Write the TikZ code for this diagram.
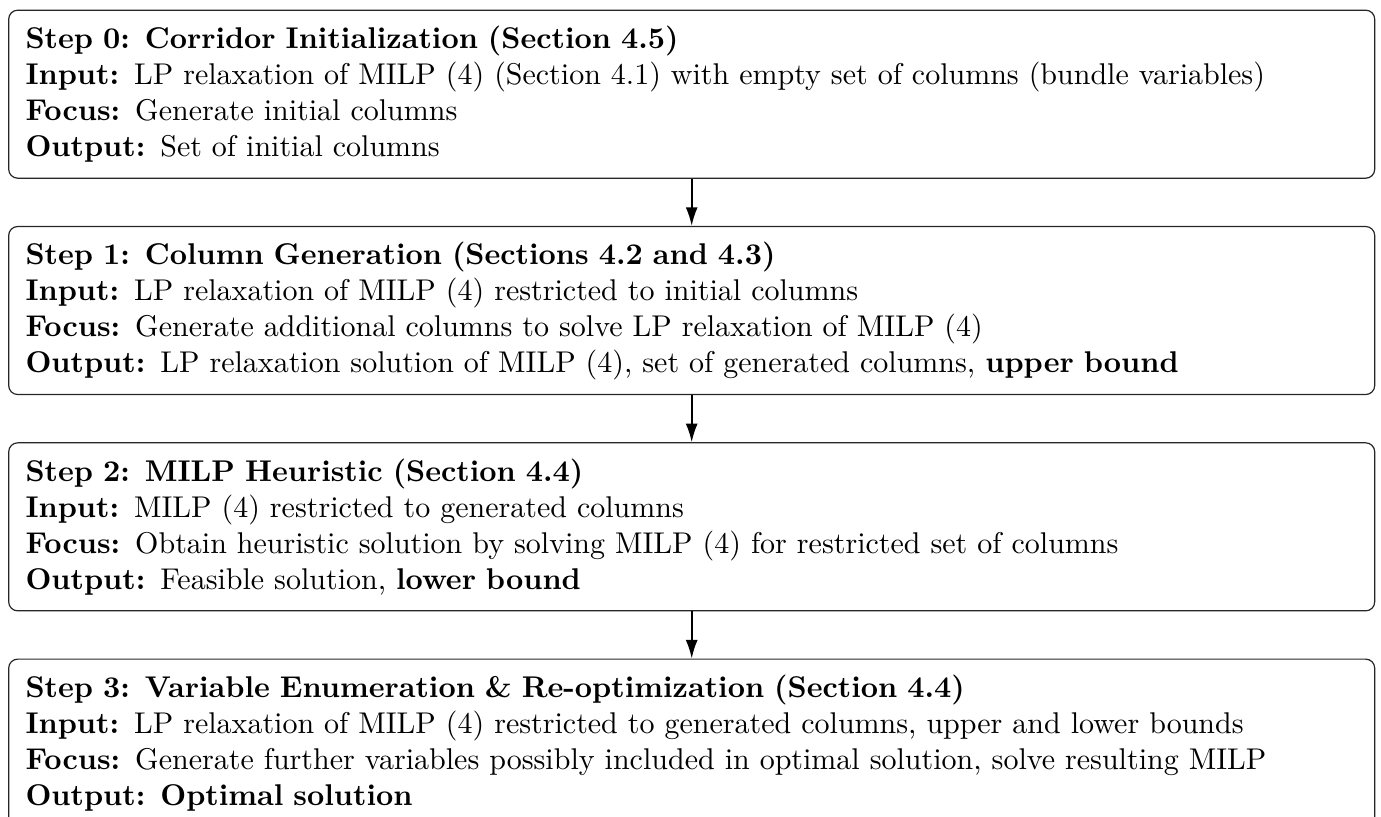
\documentclass[tikz,border=0pt]{standalone}
\usetikzlibrary{positioning,arrows.meta}
\tikzset{
  stepbox/.style={draw=black!85, rounded corners=3pt, text width=444.1pt,
    inner xsep=5.6pt, inner ysep=0pt, minimum height=56pt, align=left,
    font=\normalsize},
  flow/.style={-{Latex[length=6.2pt,width=4pt]}, line width=0.6pt},
}
\begin{document}
\begin{tikzpicture}
\useasboundingbox (0,0) rectangle (460.3pt,-272pt);
\node[stepbox, anchor=north west] (b0) at (2.7pt,-3.2pt)
  {\textbf{Step 0: Corridor Initialization (Section 4.5)}\\
   \textbf{Input:} LP relaxation of MILP (4) (Section 4.1) with empty set of columns (bundle variables)\\
   \textbf{Focus:} Generate initial columns\\
   \textbf{Output:} Set of initial columns};
\node[stepbox, below=15.7pt of b0] (b1)
  {\textbf{Step 1: Column Generation (Sections 4.2 and 4.3)}\\
   \textbf{Input:} LP relaxation of MILP (4) restricted to initial columns\\
   \textbf{Focus:} Generate additional columns to solve LP relaxation of MILP (4)\\
   \textbf{Output:} LP relaxation solution of MILP (4), set of generated columns, \textbf{upper bound}};
\node[stepbox, below=15.7pt of b1] (b2)
  {\textbf{Step 2: MILP Heuristic (Section 4.4)}\\
   \textbf{Input:} MILP (4) restricted to generated columns\\
   \textbf{Focus:} Obtain heuristic solution by solving MILP (4) for restricted set of columns\\
   \textbf{Output:} Feasible solution, \textbf{lower bound}};
\node[stepbox, below=15.7pt of b2] (b3)
  {\textbf{Step 3: Variable Enumeration \& Re-optimization (Section 4.4)}\\
   \textbf{Input:} LP relaxation of MILP (4) restricted to generated columns, upper and lower bounds\\
   \textbf{Focus:} Generate further variables possibly included in optimal solution, solve resulting MILP\\
   \textbf{Output: Optimal solution}};
\draw[flow] (b0) -- (b1);
\draw[flow] (b1) -- (b2);
\draw[flow] (b2) -- (b3);
\end{tikzpicture}
\end{document}
